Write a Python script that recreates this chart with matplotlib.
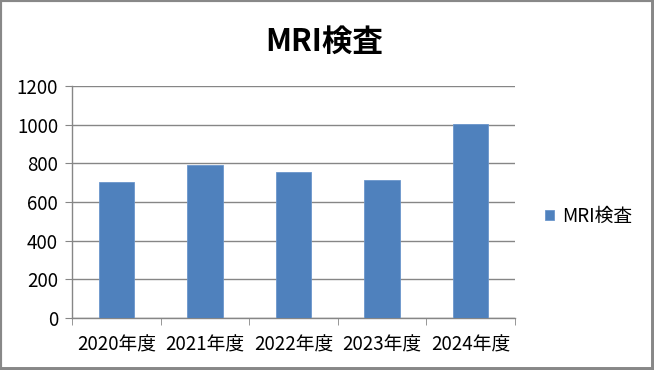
import matplotlib
matplotlib.use("Agg")
import matplotlib.pyplot as plt
from matplotlib.lines import Line2D

plt.rcParams['font.family'] = ['Noto Sans CJK JP', 'DejaVu Sans']

# data
years = ['2020年度', '2021年度', '2022年度', '2023年度', '2024年度']
mri_counts = [702, 789, 755, 716, 1004]
series_name = 'MRI検査'
y_ticks = [0, 200, 400, 600, 800, 1000, 1200]

fig = plt.figure(figsize=(6.54, 3.70), dpi=100)
ax = fig.add_axes([72 / 654, 1 - 318 / 370, (515 - 72) / 654, (318 - 86) / 370])

x = list(range(len(years)))
ax.bar(x, mri_counts, width=0.4, color='#4F81BD', edgecolor='#6b96cc',
       linewidth=0.6, label=series_name, zorder=3)

ax.set_xlim(-0.5, len(years) - 0.5)
ax.set_ylim(0, 1200)
ax.set_yticks(y_ticks)
ax.set_xticks(x)
ax.set_xticklabels(years)
ax.set_xticks([i - 0.5 for i in range(len(years) + 1)], minor=True)
ax.tick_params(axis='x', which='major', length=0, labelsize=13.5, pad=12)
ax.tick_params(axis='x', which='minor', length=5, color='#868686', direction='out')
ax.tick_params(axis='y', length=5, color='#868686', labelsize=13.5, pad=5)

ax.grid(axis='y', color='#868686', linewidth=1, zorder=0)
for s in ['top', 'right']:
    ax.spines[s].set_visible(False)
for s in ['left', 'bottom']:
    ax.spines[s].set_color('#868686')
    ax.spines[s].set_linewidth(1)

fig.text(324 / 654, 1 - 42 / 370, 'MRI検査', ha='center', va='center',
         fontsize=22, fontweight='bold')

ax.legend(loc='center left', bbox_to_anchor=(528 / 654, 1 - 216 / 370),
          bbox_transform=fig.transFigure, frameon=False, fontsize=13.5,
          handlelength=0.5, handleheight=0.5, handletextpad=0.4)

# grey frame around the chart, a bit heavier on right/bottom
c = '#888888'
fig.add_artist(Line2D([0, 0], [0, 1], transform=fig.transFigure, color=c, lw=3))
fig.add_artist(Line2D([0, 1], [1, 1], transform=fig.transFigure, color=c, lw=3))
fig.add_artist(Line2D([1, 1], [0, 1], transform=fig.transFigure, color=c, lw=5))
fig.add_artist(Line2D([0, 1], [0, 0], transform=fig.transFigure, color=c, lw=5))

fig.savefig('out.png', dpi=100)
